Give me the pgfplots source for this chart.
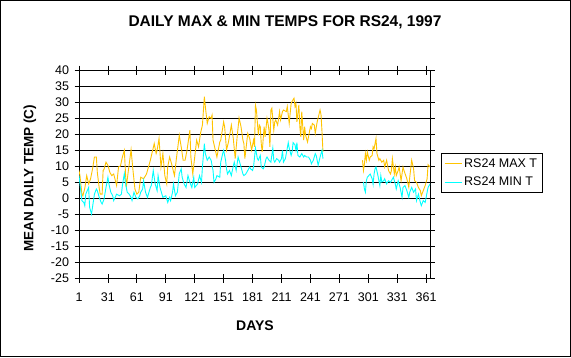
\documentclass[border=0pt]{standalone}
\usepackage{fontspec}
\setmainfont{Liberation Sans}
\usepackage{pgfplots}
\usepackage{pgfplotstable}
\pgfplotsset{compat=1.18}
\definecolor{maxc}{RGB}{255,196,0}
\definecolor{minc}{RGB}{0,255,255}

\pgfplotstableread{
day val
1 8.6
2 7.0
4 1.2
5 0.7
7 3.0
9 7.0
11 4.4
13 6.0
15 9.0
17 12.8
19 12.8
20 8.0
22 3.0
23 1.2
25 1.2
26 8.6
27 9.0
29 11.2
31 10.2
33 8.0
35 7.0
37 7.5
40 3.9
42 9.7
44 10.0
46 12.8
48 14.9
50 3.3
52 8.1
55 15.1
57 8.6
59 2.8
61 1.2
63 1.8
65 6.5
68 6.0
71 7.5
75 11.8
79 17.0
81 13.9
82 14.9
84 18.6
86 9.7
88 13.9
90 7.0
92 4.4
93 9.7
95 12.8
97 10.7
100 7.0
102 12.3
105 19.6
107 16.0
109 11.8
111 11.8
113 14.9
116 21.2
117 12.8
119 7.5
121 12.8
123 18.1
125 16.0
127 20.2
129 22.8
131 31.7
132 28.6
134 23.3
136 25.4
138 24.9
139 25.9
140 18.1
144 12.8
147 17.5
148 18.1
151 23.8
152 22.3
154 15.0
156 17.5
159 22.8
161 18.6
163 12.3
165 19.1
167 25.0
169 22.3
171 18.1
172 17.0
173 12.3
176 20.2
178 18.6
180 15.0
182 18.1
183 16.0
184 29.0
185 27.5
187 19.6
188 22.8
189 22.3
190 17.0
191 14.4
193 22.3
194 19.1
196 24.9
197 23.3
198 21.2
199 16.0
200 27.5
201 28.1
203 21.2
204 23.8
205 24.4
207 22.8
209 27.0
210 24.4
212 27.0
213 27.5
216 27.0
217 28.6
219 23.3
221 29.6
222 30.2
224 31.2
225 28.6
226 29.6
227 23.8
229 29.1
230 22.3
231 19.1
232 27.0
234 18.1
235 22.3
236 19.6
238 17.5
239 19.1
241 22.3
242 21.7
243 23.3
245 22.8
246 20.2
248 23.8
251 27.5
252 26.0
253 20.7
254 14.4
270 nan
295 11.8
296 8.6
297 10.7
298 13.9
299 11.8
300 14.4
302 11.8
303 12.8
305 13.3
306 16.0
307 15.4
309 18.6
310 13.9
312 11.8
313 12.3
315 11.2
317 11.8
318 9.7
320 11.8
322 8.6
324 7.5
325 8.6
326 12.3
328 7.5
329 9.7
330 7.0
332 8.6
333 9.7
335 5.4
337 9.7
338 8.6
341 6.0
343 3.4
344 6.5
346 11.8
348 9.1
349 5.4
351 4.9
353 3.3
355 2.3
356 0.7
358 2.3
360 3.9
362 6.0
363 10.4
365 9.7
}\maxdata

\pgfplotstableread{
day val
1 7.0
4 -0.8
6 -1.4
7 -2.4
8 1.2
11 3.3
12 -2.9
14 -5.0
15 -2.9
17 1.2
19 2.8
20 2.3
22 0.2
24 -1.4
25 -1.9
27 -0.3
29 3.3
31 6.5
32 4.4
34 1.8
36 0.7
37 -0.8
40 1.2
43 0.7
45 1.2
46 3.9
48 7.6
49 5.0
51 1.8
53 1.2
55 0.2
56 -0.8
58 1.8
60 0.2
62 -0.3
64 0.7
65 1.8
67 2.8
68 5.4
70 1.8
72 0.2
75 3.3
76 3.9
78 8.6
80 4.4
82 2.3
83 7.0
85 3.3
87 1.2
88 0.2
91 0.7
93 -1.4
95 0.2
96 -0.8
98 1.8
99 4.4
101 0.7
103 1.8
105 7.6
107 9.1
108 6.5
110 4.4
112 3.3
114 7.0
116 4.9
118 3.3
120 6.5
121 3.3
124 4.4
126 7.0
128 4.9
129 9.7
131 17.0
132 13.9
134 11.8
136 12.8
138 11.8
140 8.6
141 4.9
143 6.0
144 7.0
147 6.5
148 11.2
150 13.9
151 14.9
153 11.8
154 9.1
155 7.5
157 8.6
159 7.0
160 8.6
162 11.2
164 8.6
166 12.8
167 11.8
169 9.7
171 7.5
172 7.0
174 7.5
176 8.6
178 9.7
179 9.1
181 8.6
182 9.7
184 15.6
186 12.3
187 11.8
189 13.3
190 9.7
192 9.1
193 9.7
195 12.3
196 12.8
198 11.8
200 11.2
202 15.6
203 11.8
204 11.2
206 12.3
208 11.8
209 11.2
211 12.3
212 14.9
213 11.2
215 12.3
216 13.9
218 17.3
219 15.6
221 13.3
222 14.4
223 17.3
225 16.6
226 14.9
227 17.3
228 13.3
230 12.8
232 13.9
234 12.8
235 13.3
237 12.8
239 12.8
241 11.8
242 10.7
244 11.8
246 13.9
247 13.3
249 10.2
251 12.8
253 14.9
254 12.3
270 nan
296 5.0
297 2.8
298 1.8
299 5.4
300 6.5
303 7.5
305 6.0
306 4.3
307 7.5
308 9.1
309 9.7
311 7.0
312 5.4
313 3.9
314 7.0
315 5.0
317 5.4
318 6.0
320 4.4
322 5.4
324 4.9
325 5.4
327 6.5
329 4.4
330 2.8
332 5.4
334 3.3
336 0.2
337 3.3
339 3.9
341 2.3
343 0.2
344 1.8
346 3.3
348 1.8
350 2.8
351 -0.8
353 1.2
355 -1.4
356 -2.4
358 -0.8
360 -1.4
362 1.8
363 3.3
365 4.4
}\mindata

\begin{document}
\begin{tikzpicture}[x=1pt,y=1pt]
\path[use as bounding box] (0,0) rectangle (571,357);
\fill[white] (0,0) rectangle (571,357);
\draw[line width=1pt] (0.5,0.5) rectangle (570.5,356.5);
\begin{axis}[
  at={(79pt,79pt)}, anchor=south west,
  scale only axis, width=351pt, height=208pt,
  xmin=1, xmax=365, ymin=-25, ymax=40,
  xtick={1,31,...,361}, ytick={-25,-20,...,40},
  ymajorgrids, major grid style={black, line width=0.9pt},
  axis line style={black, line width=0.9pt},
  tick style={black, line width=0.8pt},
  tick align=center, major tick length=9pt,
  ticklabel style={font=\fontsize{12.5}{14}\selectfont},
  /pgf/number format/assume math mode=true,
  xticklabel style={yshift=-7pt},
  yticklabel style={xshift=-2pt},
  unbounded coords=jump,
  legend style={at={(1.031,0.505)}, anchor=west, draw=black, line width=0.9pt,
    font=\fontsize{12.5}{14}\selectfont, legend cell align=left,
    row sep=4pt, inner sep=3pt},
  legend image post style={line width=0.8pt},
]
\addplot[maxc, line width=0.9pt] table[x=day, y=val] {\maxdata};
\addlegendentry{RS24 MAX T}
\addplot[minc, line width=0.9pt] table[x=day, y=val] {\mindata};
\addlegendentry{RS24 MIN T}
\end{axis}
\node[font=\fontsize{15.5}{18}\selectfont\bfseries] at (285,335) {DAILY MAX \& MIN TEMPS FOR RS24, 1997};
\node[rotate=90, font=\fontsize{13.5}{15}\selectfont\bfseries] at (30,179) {MEAN DAILY TEMP (C)};
\node[font=\fontsize{14}{16}\selectfont\bfseries] at (255,31) {DAYS};
\end{tikzpicture}
\end{document}
